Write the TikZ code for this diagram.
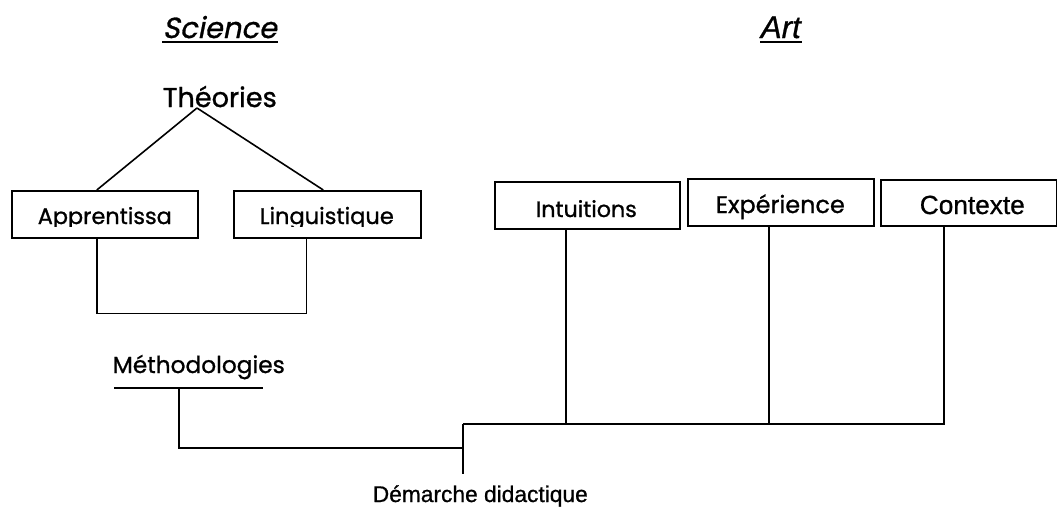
\documentclass[tikz,border=0pt]{standalone}
\usepackage{fontspec}
\setmainfont{Liberation Sans}[FakeBold=0.8]
\newfontfamily\cg{Poppins}[FakeBold=1.0]
\newfontfamily\cgi{Poppins}[FakeSlant=0.2,FakeBold=1.0]
\newfontfamily\ari{Liberation Sans}[FakeBold=0.8]
\newcommand{\fitw}[2]{\resizebox{#1}{!}{#2}}
\begin{document}
\begin{tikzpicture}[x=1pt,y=-1pt,line width=1.6pt,
  box/.style={draw,line width=1.6pt,inner sep=0pt,anchor=north west},
  lbl/.style={inner sep=0pt,anchor=base west},
  wire/.style={line width=1.6pt}]
\useasboundingbox[fill=white] (0,0) rectangle (1057,507);

% headings
\node[lbl] (sci) at (162,38) {\fitw{114pt}{\cgi Science}};
\draw[line width=2pt] ([yshift=-4pt]sci.base west) -- ([yshift=-4pt]sci.base east);
\node[lbl] (art) at (760,38) {\fitw{40pt}{\ari\itshape Art}};
\draw[line width=2pt] ([yshift=-4pt]art.base west) -- ([yshift=-4pt]art.base east);

% Theories
\node[lbl] (th) at (162,107) {\fitw{114pt}{\cg Théories}};
\coordinate (apex) at (197,108);

% boxes
\node[box,minimum width=186pt,minimum height=47pt] (A) at (11,190) {};
\node[box,minimum width=187pt,minimum height=47pt] (L) at (233,190) {};
\node[box,minimum width=185pt,minimum height=47pt] (I) at (494,181) {};
\node[box,minimum width=186pt,minimum height=47pt] (E) at (687,178) {};
\node[box,minimum width=176pt,minimum height=46pt] (C) at (880,179) {};

\begin{scope}
\clip (11,190) rectangle (197,226);
\node[lbl] (At) at (37,224) {\fitw{134pt}{\cg Apprentissa}};
\end{scope}
\begin{scope}
\clip (233,190) rectangle (420,226);
\node[lbl] (Lt) at (259,224) {\fitw{134pt}{\cg Linguistique}};
\end{scope}
\node[lbl] (It) at (535,217) {\fitw{101pt}{\cg Intuitions}};
\begin{scope}
\clip (687,178) rectangle (873,221);
\node[lbl] (Et) at (715,213) {\fitw{129pt}{\cg Expérience}};
\end{scope}
\node[lbl] (Ct) at (919,214) {\fitw{105pt}{\ari Contexte}};

% Theories to boxes
\draw[wire] (apex) -- ([xshift=-8pt]A.north);
\draw[wire] (apex) -- ([xshift=-4pt]L.north);

% A-L bracket
\draw[wire] ([xshift=-8pt]A.south) -- ++(0,75) -| ([xshift=-21pt]L.south);

% Methodologies
\node[lbl] (M) at (112,373) {\fitw{172pt}{\cg Méthodologies}};
\coordinate (m1) at (114,388);
\coordinate (m2) at (263,388);
\coordinate (mv) at (179,388);
\draw[wire] (m1) -- (m2);

% Demarche
\coordinate (dtop) at (463,424);
\coordinate (dbot) at (463,474);
\node[lbl] (D) at (372,502) {\fitw{215pt}{\ari Démarche didactique}};
\draw[wire] (mv) |- (463,448);
\draw[wire] (dtop) -- (dbot);
\draw[wire] (dtop) -- ([xshift=-25pt]C.south |- dtop) -- ([xshift=-25pt]C.south);
\draw[wire] ([xshift=-21.5pt]I.south) -- ([xshift=-21.5pt]I.south |- dtop);
\draw[wire] ([xshift=-12pt]E.south) -- ([xshift=-12pt]E.south |- dtop);
\end{tikzpicture}
\end{document}
